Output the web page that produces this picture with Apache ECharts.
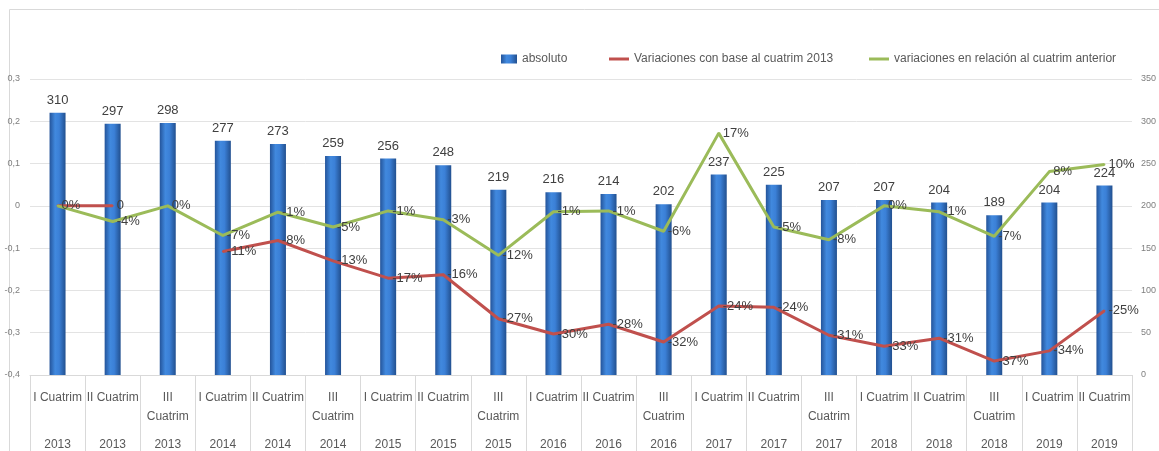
<!DOCTYPE html>
<html>
<head>
<meta charset="utf-8">
<script src="https://cdn.jsdelivr.net/npm/echarts@6/dist/echarts.min.js"></script>
<style>html,body{margin:0;padding:0;background:#fff;}#c{width:1159px;height:451px;}</style>
</head>
<body>
<div id="c"></div>
<script>
const quarters = ['I Cuatrim','II Cuatrim','III Cuatrim','I Cuatrim','II Cuatrim','III Cuatrim','I Cuatrim','II Cuatrim','III Cuatrim','I Cuatrim','II Cuatrim','III Cuatrim','I Cuatrim','II Cuatrim','III Cuatrim','I Cuatrim','II Cuatrim','III Cuatrim','I Cuatrim','II Cuatrim'];
const years = ['2013','2013','2013','2014','2014','2014','2015','2015','2015','2016','2016','2016','2017','2017','2017','2018','2018','2018','2019','2019'];
const absoluto = [310,297,298,277,273,259,256,248,219,216,214,202,237,225,207,207,204,189,204,224];
const varBase2013 = [0,0,null,-0.108,-0.082,-0.13,-0.171,-0.163,-0.267,-0.303,-0.28,-0.322,-0.237,-0.24,-0.306,-0.332,-0.313,-0.367,-0.343,-0.248];
const varAnterior = [0,-0.037,0,-0.07,-0.015,-0.05,-0.012,-0.033,-0.117,-0.014,-0.012,-0.06,0.172,-0.05,-0.08,0,-0.014,-0.072,0.081,0.098];
const leftTicks = {min:-0.4, max:0.3, interval:0.1};
const rightTicks = {min:0, max:350, interval:50};

const FONT = 'Liberation Sans';
const chart = echarts.init(document.getElementById('c'), null, {renderer:'canvas'});
const pct = v => Math.round(v*100) + '%';

const barGrad = new echarts.graphic.LinearGradient(0,0,1,0,[
  {offset:0,color:'#24549a'},{offset:0.35,color:'#4189de'},{offset:0.6,color:'#3b80d7'},{offset:1,color:'#22508f'}
]);

const lineLabel = {show:true,position:'right',distance:3,fontSize:13,color:'#404040',fontFamily:FONT};

chart.setOption({
  animation:false,
  textStyle:{fontFamily:FONT},
  graphic:[{type:'rect',left:7,top:7,shape:{width:1170,height:460},style:{fill:'none',stroke:'#d9d9d9',lineWidth:1},silent:true}],
  legend:[
    {left:496,top:48,itemWidth:16,itemHeight:9,data:[{name:'absoluto',icon:'rect'}],textStyle:{fontFamily:FONT,fontSize:12,color:'#595959'}},
    {left:604,top:48,itemWidth:20,itemHeight:3,data:[{name:'Variaciones con base al cuatrim 2013',icon:'rect'}],textStyle:{fontFamily:FONT,fontSize:12,color:'#595959'}},
    {left:864,top:48,itemWidth:20,itemHeight:3,data:[{name:'variaciones en relación al cuatrim anterior',icon:'rect'}],textStyle:{fontFamily:FONT,fontSize:12,color:'#595959'}}
  ],
  grid:{left:30,right:19,top:79,bottom:75,containLabel:false},
  xAxis:[
    {type:'category',data:quarters,position:'bottom',
     axisLine:{show:true,onZero:false,lineStyle:{color:'#d9d9d9'}},
     axisTick:{show:true,interval:0,length:76,alignWithLabel:false,lineStyle:{color:'#d9d9d9'}},
     axisLabel:{interval:0,margin:13,fontSize:12,lineHeight:19,color:'#595959',fontFamily:FONT,
       formatter:v => v.indexOf('III ')===0 ? v.replace(' ','\n') : v}},
    {type:'category',data:years,position:'bottom',
     axisLine:{show:false,onZero:false},axisTick:{show:false},
     axisLabel:{interval:0,margin:64,fontSize:12,color:'#595959',fontFamily:FONT}}
  ],
  yAxis:[
    {type:'value',min:leftTicks.min,max:leftTicks.max,interval:leftTicks.interval,position:'left',
     axisLine:{show:false},axisTick:{show:false},
     splitLine:{show:true,lineStyle:{color:'#e3e3e3'}},
     axisLabel:{fontSize:9,color:'#7f7f7f',margin:10,
       formatter:v => { const r = Math.round(v*10)/10; return r===0 ? '0' : String(r).replace('.',','); }}},
    {type:'value',min:rightTicks.min,max:rightTicks.max,interval:rightTicks.interval,position:'right',
     axisLine:{show:false},axisTick:{show:false},splitLine:{show:false},
     axisLabel:{fontSize:9,color:'#7f7f7f',margin:9}}
  ],
  series:[
    {name:'absoluto',type:'bar',xAxisIndex:0,yAxisIndex:1,data:absoluto,barWidth:16,
     itemStyle:{color:barGrad},
     label:{show:true,position:'top',distance:6,fontSize:13,color:'#404040',fontFamily:FONT}},
    {name:'Variaciones con base al cuatrim 2013',type:'line',xAxisIndex:0,yAxisIndex:0,
     data:varBase2013.map((v,i)=> i===0 ? {value:v,label:{show:false}} : v),
     symbol:'circle',symbolSize:2,showSymbol:true,connectNulls:false,z:3,
     lineStyle:{color:'#c0504d',width:3},itemStyle:{color:'#c0504d'},
     label:Object.assign({},lineLabel,{formatter:p => p.value===0 ? '0' : pct(p.value)})},
    {name:'variaciones en relación al cuatrim anterior',type:'line',xAxisIndex:0,yAxisIndex:0,
     data:varAnterior,symbol:'circle',symbolSize:2,showSymbol:true,z:4,
     lineStyle:{color:'#9bbb59',width:3},itemStyle:{color:'#9bbb59'},
     label:Object.assign({},lineLabel,{formatter:p => pct(p.value)})}
  ]
});
</script>
</body>
</html>
